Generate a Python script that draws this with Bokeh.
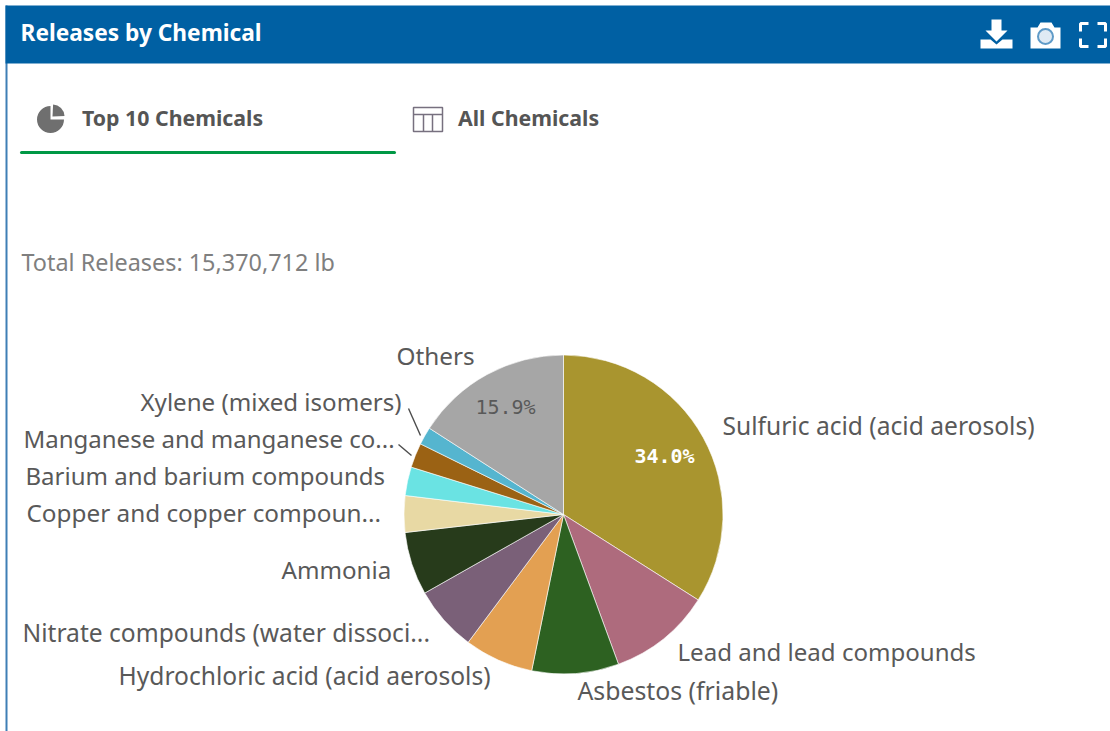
import numpy as np
from bokeh.plotting import figure
from bokeh.models import ColumnDataSource, Range1d
from bokeh.core.properties import value
from bokeh.embed import file_html
from bokeh.resources import INLINE

# ---- data
categories = ["Sulfuric acid (acid aerosols)", "Lead and lead compounds", "Asbestos (friable)",
              "Hydrochloric acid (acid aerosols)", "Nitrate compounds (water dissoci...", "Ammonia",
              "Copper and copper compoun...", "Barium and barium compounds",
              "Manganese and manganese co...", "Xylene (mixed isomers)", "Others"]
shares = [34.0, 10.4, 8.8, 7.0, 6.6, 6.4, 3.7, 2.9, 2.5, 1.8, 15.9]
colors = ["#a9952f", "#ae6b7d", "#2d6121", "#e3a052", "#7a6078", "#273b1b",
          "#e8d9a4", "#6ae3e3", "#9b6214", "#55b5cf", "#a6a6a6"]
title_text = "Releases by Chemical"
tab_texts = ["Top 10 Chemicals", "All Chemicals"]
total_text = "Total Releases: 15,370,712 lb"

# ---- layout (page pixels)
W, H = 1110, 731
label_x = [722, 677, 577, 118, 22, 281, 26, 25, 23, 140, 396]
label_y = [425, 651, 689, 675, 632, 569, 512, 475, 438, 401, 355]
label_px = ["24.6px", "24.05px", "24.8px", "24.6px", "24.6px", "24.1px", "24.3px", "24px", "24px", "24.1px", "24.3px"]
CX, CY, R = 563, 514, 159.5
FONT = value("Noto Sans")
GREY = "#595959"

p = figure(width=W, height=H, x_range=Range1d(0, W), y_range=Range1d(H, 0),
           x_axis_type=None, y_axis_type=None, toolbar_location=None,
           output_backend="svg", min_border=0, outline_line_color=None,
           background_fill_color="white", border_fill_color="white")
p.grid.visible = False

# panel frame + header
p.segment(x0=[6], y0=[5], x1=[6], y1=[731], line_color="#3f7fb5", line_width=2)
p.quad(left=[5], right=[1110], top=[5], bottom=[63], fill_color="#0060a3", line_color=None)
p.text(x=[20], y=[32], text=[title_text], text_color="white", text_font=FONT,
       text_font_size="22.7px", text_font_style="bold", text_align="left", text_baseline="middle")

# header icons: download
p.patch([991, 1001, 1001, 1007, 996, 985, 991], [19, 19, 30, 30, 41, 30, 30], fill_color="white", line_color=None)
p.patch([980, 990, 996, 1002, 1012, 1012, 980], [39, 39, 44, 39, 39, 48, 48], fill_color="white", line_color=None)
# camera
p.patch([1030, 1037, 1040, 1051, 1054, 1060, 1060, 1030], [27, 27, 22, 22, 27, 27, 48, 48], fill_color="white", line_color=None)
p.scatter([1045], [36], size=15, marker="circle", fill_color="#dfeaf4", line_color="#5f9bc8", line_width=2)
# fullscreen
p.multi_line([[1080, 1080, 1088], [1097, 1105, 1105], [1080, 1080, 1088], [1097, 1105, 1105]],
             [[31, 23, 23], [23, 23, 31], [38, 46, 46], [46, 46, 38]], line_color="white", line_width=3)

# tabs
p.wedge(x=[50], y=[119], radius=13.5, start_angle=[0], end_angle=[-1.5 * np.pi], direction="clock",
        fill_color="#6f6f6f", line_color=None)
p.wedge(x=[52], y=[117], radius=12, start_angle=[0], end_angle=[np.pi / 2], direction="anticlock",
        fill_color="white", line_color=None)
p.wedge(x=[52], y=[116], radius=12, start_angle=[0.05], end_angle=[1.52], direction="anticlock",
        fill_color="#6f6f6f", line_color=None)
p.text(x=[81.5, 457.5], y=[117, 117], text=tab_texts, text_color="#555555", text_font=FONT,
       text_font_size="21.3px", text_font_style="bold", text_align="left", text_baseline="middle")
p.quad(left=[413], right=[442], top=[107], bottom=[131], fill_color="white", line_color="#77707f", line_width=1.5)
p.segment(x0=[413, 423, 432], y0=[114, 114, 114], x1=[442, 423, 432], y1=[114, 131, 131],
          line_color="#77707f", line_width=1.5)
p.segment(x0=[21], y0=[152], x1=[394], y1=[152], line_color="#009845", line_width=3, line_cap="round")

p.text(x=[21], y=[261], text=[total_text], text_color="#7f7f7f", text_font=FONT,
       text_font_size="23.4px", text_align="left", text_baseline="middle")

# pie
fr = np.cumsum([0] + shares) / sum(shares) * 2 * np.pi
src = ColumnDataSource(dict(name=categories, share=shares, color=colors,
                            start=np.pi / 2 - fr[:-1], end=np.pi / 2 - fr[1:]))
p.wedge(x=CX, y=CY, radius=R, start_angle="start", end_angle="end", direction="clock",
        fill_color="color", line_color="white", line_width=0.6, source=src)

# leader lines
p.segment(x0=[408, 398], y0=[408, 444], x1=[420, 411], y1=[435, 455], line_color="#4d4d4d", line_width=1.4)

# labels
label_src = ColumnDataSource(dict(x=label_x, y=label_y, t=categories, s=label_px))
p.text(x="x", y="y", text="t", text_font_size="s", text_color=GREY, text_font=FONT,
       text_align="left", text_baseline="middle", source=label_src)
p.text(x=[664], y=[455], text=[f"{shares[0]:.1f}%"], text_color="white", text_font=value("DejaVu Sans Mono"),
       text_font_size="20px", text_font_style="bold", text_align="center", text_baseline="middle")
p.text(x=[505], y=[406], text=[f"{shares[-1]:.1f}%"], text_color="#595959", text_font=value("DejaVu Sans Mono"),
       text_font_size="20px", text_align="center", text_baseline="middle")

open("out.html", "w").write(file_html(p, INLINE))
